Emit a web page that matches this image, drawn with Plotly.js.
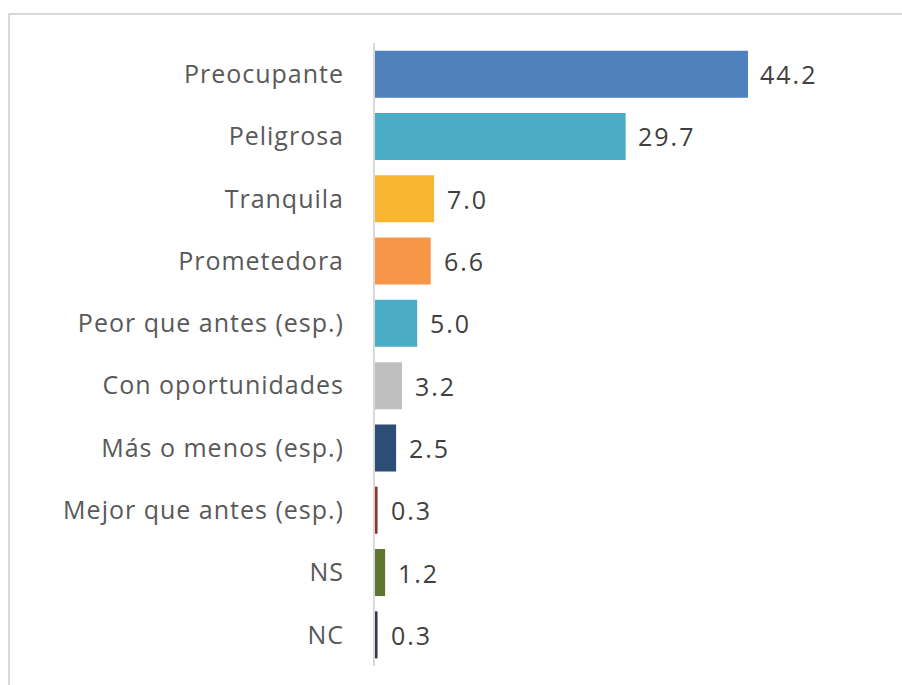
<!DOCTYPE html>
<html>
<head>
<meta charset="utf-8">
<script src="https://cdn.plot.ly/plotly-3.0.1.min.js"></script>
<style>
html,body{margin:0;padding:0;background:#fff;}
#chart{width:902px;height:685px;}
#chart .ytick text{letter-spacing:1px;}
#chart .annotation text{letter-spacing:2px;}
</style>
</head>
<body>
<div id="chart"></div>
<script>
const categories = ["Preocupante","Peligrosa","Tranquila","Prometedora","Peor que antes (esp.)","Con oportunidades","Más o menos (esp.)","Mejor que antes (esp.)","NS","NC"];
const values = [44.2, 29.7, 7.0, 6.6, 5.0, 3.2, 2.5, 0.3, 1.2, 0.3];
const barColors = ["#4F81BD","#4BACC6","#F8B631","#F79646","#4BACC6","#BFBFBF","#2C4D75","#8E2F2C","#5F7530","#3F3151"];

const W = 902, H = 685;
const L = 375, R = 20, T = 43, B = 19;
const pw = W - L - R, ph = H - T - B;
const pxPerUnit = 373 / 44.2;
const xmax = pw / pxPerUnit;

const px = v => (v - L) / pw;
const py = v => (H - B - v) / ph;

const trace = {
  type: 'bar',
  orientation: 'h',
  x: values,
  y: categories,
  marker: {color: barColors, line: {width: 0}},
  hoverinfo: 'none'
};

const annotations = values.map((v, i) => ({
  x: v, y: categories[i], xref: 'x', yref: 'y',
  text: v.toFixed(1), showarrow: false,
  xanchor: 'left', yanchor: 'middle', xshift: 14,
  font: {family: 'Open Sans, sans-serif', size: 25, color: '#404040'}
}));

const layout = {
  width: W, height: H,
  margin: {l: L, r: R, t: T, b: B, pad: 0},
  paper_bgcolor: '#ffffff', plot_bgcolor: '#ffffff',
  showlegend: false,
  bargap: 0.245,
  font: {family: 'Open Sans, sans-serif'},
  xaxis: {range: [0, xmax], visible: false, showgrid: false, zeroline: false, fixedrange: true},
  yaxis: {
    type: 'category', range: [9.5, -0.5],
    showline: true, linecolor: '#D9D9D9', linewidth: 2,
    showgrid: false, zeroline: false, ticks: '',
    ticklabelstandoff: 24,
    tickfont: {family: 'Open Sans, sans-serif', size: 25, color: '#595959'},
    fixedrange: true
  },
  annotations: annotations,
  shapes: [{
    type: 'rect', xref: 'paper', yref: 'paper',
    x0: px(9), x1: px(920), y0: py(700), y1: py(14),
    line: {color: '#D9D9D9', width: 2}, fillcolor: 'rgba(0,0,0,0)', layer: 'below'
  }]
};

Plotly.newPlot('chart', [trace], layout, {staticPlot: true, displayModeBar: false});
</script>
</body>
</html>
